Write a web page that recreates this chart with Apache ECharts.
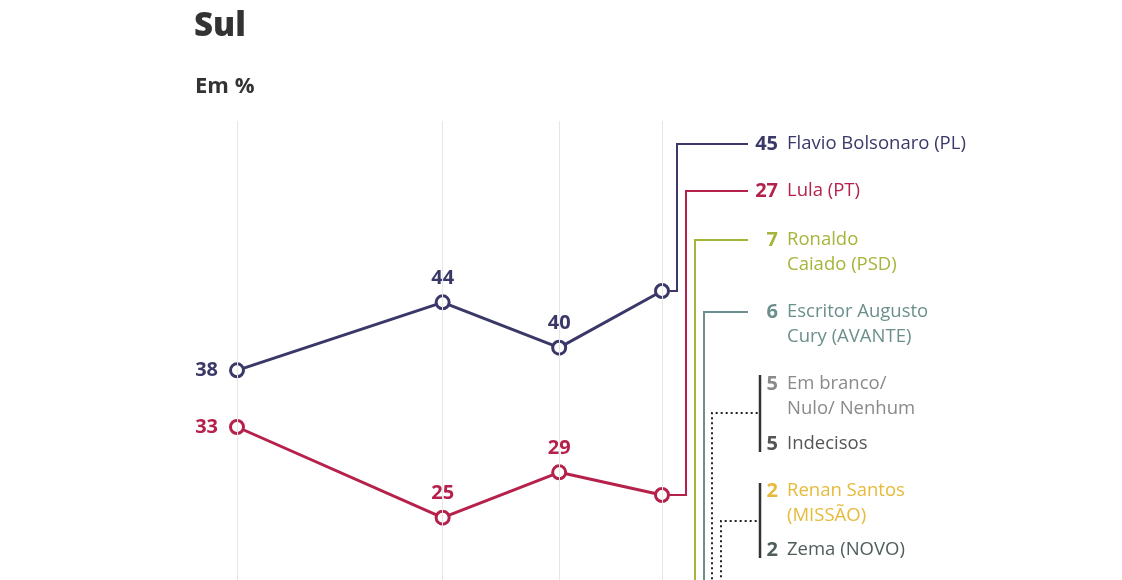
<!DOCTYPE html>
<html>
<head>
<meta charset="utf-8">
<script src="https://cdn.jsdelivr.net/npm/echarts@6/dist/echarts.min.js"></script>
<style>
  html, body { margin: 0; padding: 0; background: #fff; }
  #chart { width: 1122px; height: 580px; }
</style>
</head>
<body>
<div id="chart"></div>
<script>
// survey dates and results (%)
const dates = ['2025-12-04', '2026-02-02', '2026-03-08', '2026-04-07'];
const flavio = [38, 44, 40, 45];
const lula = [33, 25, 29, 27];

// latest round, every option
const names = [
  'Flavio Bolsonaro (PL)',
  'Lula (PT)',
  'Ronaldo\nCaiado (PSD)',
  'Escritor Augusto\nCury (AVANTE)',
  'Em branco/\nNulo/ Nenhum',
  'Indecisos',
  'Renan Santos\n(MISSÃO)',
  'Zema (NOVO)'
];
const latest = [45, 27, 7, 6, 5, 5, 2, 2];

const FONT = '"Open Sans", Lato, sans-serif';
const colors = ['#3a3868', '#b5214a', '#a7b43a', '#6b8f8c', '#8a8a8a', '#555555', '#e6ba3a', '#4f5d5d'];

// label placement on the right side
const labelY = [144, 191, 240, 312, 384, 444, 491, 550];
const elbowX = [677, 686, 695, 704];
const lineEnd = 748;
const numX = 778;
const nameX = 787;
const groups = [
  { members: [4, 5], elbow: 712, mid: 413, top: 375, bottom: 452 },
  { members: [6, 7], elbow: 721, mid: 521, top: 483, bottom: 558 }
];
const bracketX = 760;

const chart = echarts.init(document.getElementById('chart'));

function pointLabel(values, color) {
  return values.map((v, i) => ({
    value: [dates[i], v],
    label: {
      show: i < values.length - 1,
      position: i === 0 ? 'left' : 'top',
      distance: i === 0 ? 11 : 6,
      color: color,
      fontSize: 20,
      fontWeight: 'bold',
      fontFamily: FONT
    }
  }));
}

function renderCandidate(params, api) {
  const i = params.dataIndex;
  const p = api.coord([api.value(0), api.value(1)]);
  const y = labelY[i];
  const children = [];
  if (i < elbowX.length) {
    children.push({
      type: 'polyline',
      shape: { points: [p, [elbowX[i], p[1]], [elbowX[i], y], [lineEnd, y]] },
      style: { stroke: colors[i], lineWidth: 2, fill: null }
    });
  }
  children.push({
    type: 'text',
    style: {
      text: String(latest[i]), x: numX, y: y - 12.5,
      align: 'right', verticalAlign: 'top', lineHeight: 25,
      fontSize: 20, fontWeight: 'bold', fontFamily: FONT, fill: colors[i]
    }
  });
  children.push({
    type: 'text',
    style: {
      text: names[i], x: nameX, y: y - 12.5,
      align: 'left', verticalAlign: 'top', lineHeight: 25,
      fontSize: 18.5, fontFamily: FONT, fill: colors[i]
    }
  });
  return { type: 'group', children: children };
}

function renderGroup(params, api) {
  const g = groups[params.dataIndex];
  const p = api.coord([api.value(0), api.value(1)]);
  return {
    type: 'group',
    children: [
      {
        type: 'polyline',
        shape: { points: [p, [g.elbow, p[1]], [g.elbow, g.mid], [bracketX, g.mid]] },
        style: { stroke: '#222', lineWidth: 2, lineDash: [2, 3], fill: null }
      },
      {
        type: 'line',
        shape: { x1: bracketX, y1: g.top, x2: bracketX, y2: g.bottom },
        style: { stroke: '#333', lineWidth: 2.5 }
      }
    ]
  };
}

const option = {
  animation: false,
  backgroundColor: '#fff',
  title: [
    { text: 'Sul', left: 189, top: 5, textStyle: { fontSize: 33, fontWeight: 800, color: '#333', fontFamily: FONT } },
    { text: 'Em %', left: 190, top: 71, textStyle: { fontSize: 22, fontWeight: 'bold', color: '#333', fontFamily: FONT } }
  ],
  // the y scale runs below the visible area: small shares sit off-canvas
  grid: { left: 237, width: 425, top: 121, height: 680, outerBoundsMode: 'none' },
  xAxis: { type: 'time', min: dates[0], max: dates[dates.length - 1], show: false },
  yAxis: { type: 'value', min: 0, max: 60, show: false, splitLine: { show: false } },
  series: [
    {
      type: 'line',
      data: [],
      z: 0,
      silent: true,
      markLine: {
        silent: true,
        symbol: 'none',
        label: { show: false },
        lineStyle: { color: '#e6e6e6', width: 1, type: 'solid' },
        data: dates.map(d => ({ xAxis: d }))
      }
    },
    {
      type: 'custom',
      z: 1,
      renderItem: renderCandidate,
      data: latest.map(v => [dates[dates.length - 1], v])
    },
    {
      type: 'custom',
      z: 1,
      renderItem: renderGroup,
      data: groups.map(g => [dates[dates.length - 1], latest[g.members[0]]])
    },
    {
      name: 'Flavio Bolsonaro (PL)',
      type: 'line',
      z: 3,
      clip: false,
      symbol: 'circle',
      symbolSize: 13,
      lineStyle: { color: colors[0], width: 3 },
      itemStyle: { color: '#fff', borderColor: colors[0], borderWidth: 3 },
      data: pointLabel(flavio, colors[0])
    },
    {
      name: 'Lula (PT)',
      type: 'line',
      z: 3,
      clip: false,
      symbol: 'circle',
      symbolSize: 13,
      lineStyle: { color: colors[1], width: 3 },
      itemStyle: { color: '#fff', borderColor: colors[1], borderWidth: 3 },
      data: pointLabel(lula, colors[1])
    }
  ]
};

chart.setOption(option);
</script>
</body>
</html>
